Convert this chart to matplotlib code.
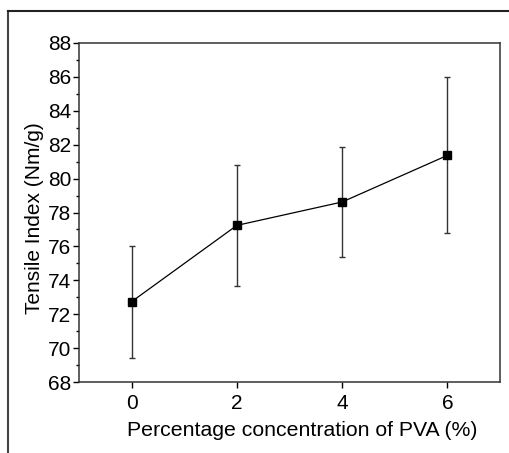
import matplotlib.pyplot as plt
from matplotlib.lines import Line2D
from matplotlib.ticker import MultipleLocator

plt.rcParams["font.family"] = ["Liberation Sans", "DejaVu Sans"]

pva = [0, 2, 4, 6]
tensile = [72.74, 77.24, 78.62, 81.37]
err = [3.3, 3.58, 3.27, 4.6]

fig = plt.figure(figsize=(5.09, 4.53), dpi=100)
ax = fig.add_axes([79 / 509, 1 - 382 / 453, 421 / 509, 339 / 453])

ax.errorbar(pva, tensile, yerr=err, color="black", lw=0.9, marker="s", ms=6,
            ecolor="#333333", elinewidth=1.0, capsize=2.5, capthick=1.0)

ax.set_xlim(-1, 7)
ax.set_ylim(68, 88)
ax.set_xticks([0, 2, 4, 6])
ax.yaxis.set_major_locator(MultipleLocator(2))
ax.yaxis.set_minor_locator(MultipleLocator(1))
ax.tick_params(axis="both", which="major", direction="out", length=4.5, width=1,
               labelsize=15, pad=1)
ax.tick_params(axis="x", which="major", pad=4)
ax.tick_params(axis="y", which="minor", direction="out", length=2.5, width=1)
for s in ax.spines.values():
    s.set_linewidth(1.1)
    s.set_color("#333333")

ax.set_xlabel("Percentage concentration of PVA (%)", fontsize=15.3)
ax.set_ylabel("Tensile Index (Nm/g)", fontsize=15)
ax.xaxis.set_label_coords(0.531, -0.115)
ax.yaxis.set_label_coords(-0.083, 0.484)

# outer frame, clipped by the image edges
fig.add_artist(Line2D([8 / 509, 8 / 509], [0, 1 - 11 / 453], color="#444444", lw=1.5))
fig.add_artist(Line2D([8 / 509, 1], [1 - 11 / 453, 1 - 11 / 453], color="#222222", lw=1.5))

fig.savefig("out.png", dpi=100)
